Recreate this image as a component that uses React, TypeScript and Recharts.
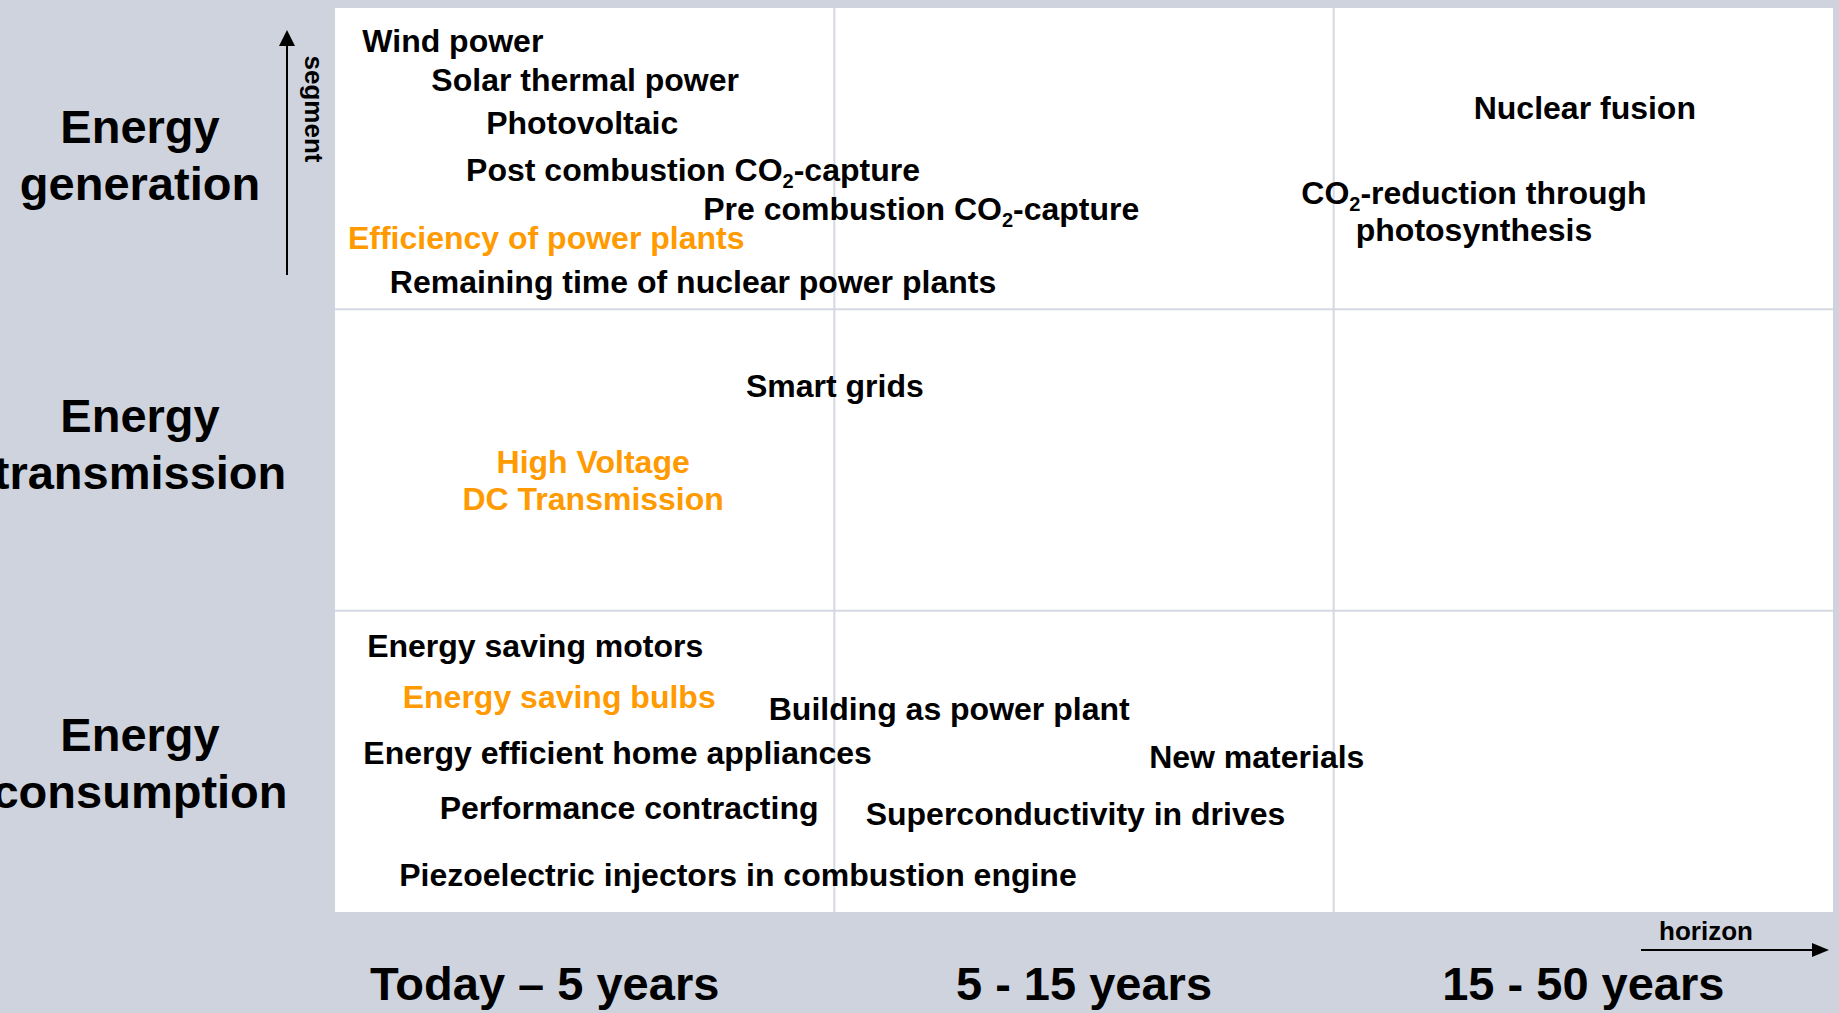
import React from 'react';
import { ScatterChart, Scatter, XAxis, YAxis, CartesianGrid, ReferenceLine } from 'recharts';

const FONT = '"Liberation Sans", Arial, Helvetica, sans-serif';
const BG = '#CED3DD';
const GRID = '#D4D8E0';
const ORANGE = '#FF9A00';
const INK = '#000000';

// Horizon (x) categories
const horizonLabels = ['Today \u2013 5 years', '5 - 15 years', '15 - 50 years'];
const horizonTicks = [0.42, 1.5, 2.5];

// Segment (y) categories
const segmentLabels = ['Energy\nconsumption', 'Energy\ntransmission', 'Energy\ngeneration'];
const segmentTicks = [0.48, 1.54, 2.5];

// Technologies
const itemLabels = [
  'Wind power',
  'Solar thermal power',
  'Photovoltaic',
  'Post combustion CO2-capture',
  'Pre combustion CO2-capture',
  'Efficiency of power plants',
  'Remaining time of nuclear power plants',
  'Nuclear fusion',
  'CO2-reduction through\nphotosynthesis',
  'Smart grids',
  'High Voltage\nDC Transmission',
  'Energy saving motors',
  'Energy saving bulbs',
  'Building as power plant',
  'Energy efficient home appliances',
  'New materials',
  'Performance contracting',
  'Superconductivity in drives',
  'Piezoelectric injectors in combustion engine',
];
const itemHorizon = [
  0.236, 0.501, 0.495, 0.717, 1.174, 0.423, 0.717, 2.503, 2.281, 1.001,
  0.517, 0.401, 0.449, 1.23, 0.566, 1.846, 0.589, 1.483, 0.807,
];
const itemSegment = [
  2.887, 2.758, 2.615, 2.459, 2.33, 2.233, 2.087, 2.665, 2.323, 1.742,
  1.43, 0.879, 0.71, 0.67, 0.524, 0.511, 0.342, 0.322, 0.119,
];
const itemHighlight = [
  false, false, false, false, false, true, false, false, false, false,
  true, false, true, false, false, false, false, false, false,
];

const data = itemLabels.map((label, i) => ({
  label,
  horizon: itemHorizon[i],
  segment: itemSegment[i],
  highlight: itemHighlight[i],
}));

const ITEM_SIZE = 32;
const SUB = 7;

function lineSpans(line: string) {
  const segs = line.split('CO2');
  const out: React.ReactNode[] = [];
  segs.forEach((s, i) => {
    const text = i < segs.length - 1 ? s + 'CO' : s;
    out.push(
      <tspan key={'t' + i} dy={i > 0 ? -SUB : 0}>
        {text}
      </tspan>
    );
    if (i < segs.length - 1) {
      out.push(
        <tspan key={'s' + i} dy={SUB} fontSize={20}>
          2
        </tspan>
      );
    }
  });
  return out;
}

const ItemShape = (props: any) => {
  const { cx, cy, payload } = props;
  if (cx == null || cy == null) return null;
  const lines = String(payload.label).split('\n');
  const n = lines.length;
  return (
    <g>
      {lines.map((ln, j) => (
        <text
          key={j}
          x={cx}
          y={cy + 10 + (j - (n - 1) / 2) * 37}
          textAnchor="middle"
          fontFamily={FONT}
          fontWeight="bold"
          fontSize={ITEM_SIZE}
          fill={payload.highlight ? ORANGE : INK}
        >
          {lineSpans(ln)}
        </text>
      ))}
    </g>
  );
};

const HorizonTick = (props: any) => {
  const { x, y, payload } = props;
  const idx = horizonTicks.indexOf(payload.value);
  const label = idx >= 0 ? horizonLabels[idx] : '';
  return (
    <text
      x={x}
      y={y + 88}
      textAnchor="middle"
      fontFamily={FONT}
      fontWeight="bold"
      fontSize={47}
      fill={INK}
    >
      {label}
    </text>
  );
};

const SegmentTick = (props: any) => {
  const { x, y, payload } = props;
  const idx = segmentTicks.indexOf(payload.value);
  const label = idx >= 0 ? segmentLabels[idx] : '';
  const lines = label.split('\n');
  return (
    <g>
      {lines.map((ln, j) => (
        <text
          key={j}
          x={x - 195}
          y={y - 16 + j * 57}
          textAnchor="middle"
          fontFamily={FONT}
          fontWeight="bold"
          fontSize={47}
          fill={INK}
        >
          {ln}
        </text>
      ))}
    </g>
  );
};

const horizonArrow = (props: any) => {
  const vb = props.viewBox || {};
  const right = (vb.x ?? 335) + (vb.width ?? 1498);
  const top = vb.y ?? 912;
  const ay = top + 38;
  return (
    <g>
      <text
        x={right - 127}
        y={top + 28}
        textAnchor="middle"
        fontFamily={FONT}
        fontWeight="bold"
        fontSize={26}
        fill={INK}
      >
        horizon
      </text>
      <line x1={right - 192} y1={ay} x2={right - 18} y2={ay} stroke={INK} strokeWidth={2} />
      <polygon points={`${right - 4},${ay} ${right - 21},${ay - 7} ${right - 21},${ay + 7}`} fill={INK} />
    </g>
  );
};

const segmentArrow = (props: any) => {
  const vb = props.viewBox || {};
  const right = (vb.x ?? 0) + (vb.width ?? 335);
  const top = vb.y ?? 8;
  const ax = right - 48;
  const tipY = top + 22;
  const tx = right - 21;
  const ty = top + 101;
  return (
    <g>
      <line x1={ax} y1={tipY + 12} x2={ax} y2={top + 267} stroke={INK} strokeWidth={2} />
      <polygon points={`${ax},${tipY} ${ax - 8},${tipY + 16} ${ax + 8},${tipY + 16}`} fill={INK} />
      <text
        x={tx}
        y={ty}
        textAnchor="middle"
        dominantBaseline="central"
        fontFamily={FONT}
        fontWeight="bold"
        fontSize={26}
        fill={INK}
        transform={`rotate(90 ${tx} ${ty})`}
      >
        segment
      </text>
    </g>
  );
};

export default function App() {
  return (
    <div
      style={{
        position: 'absolute',
        left: 0,
        top: 0,
        width: 1839,
        height: 1013,
        background: BG,
        overflow: 'hidden',
      }}
    >
      <ScatterChart width={1839} height={1013} margin={{ top: 8, right: 6, bottom: 0, left: 0 }}>
        <CartesianGrid fill="#FFFFFF" fillOpacity={1} horizontal={false} vertical={false} />
        <XAxis
          dataKey="horizon"
          type="number"
          domain={[0, 3]}
          ticks={horizonTicks}
          interval={0}
          tickLine={false}
          axisLine={false}
          tickSize={0}
          tickMargin={0}
          height={101}
          tick={<HorizonTick />}
          label={horizonArrow}
        />
        <YAxis
          dataKey="segment"
          type="number"
          domain={[0, 3]}
          ticks={segmentTicks}
          interval={0}
          tickLine={false}
          axisLine={false}
          tickSize={0}
          tickMargin={0}
          width={335}
          tick={<SegmentTick />}
          label={segmentArrow}
        />
        <ReferenceLine x={1} stroke={GRID} strokeWidth={2} />
        <ReferenceLine x={2} stroke={GRID} strokeWidth={2} />
        <ReferenceLine y={1} stroke={GRID} strokeWidth={2} />
        <ReferenceLine y={2} stroke={GRID} strokeWidth={2} />
        <Scatter data={data} shape={<ItemShape />} isAnimationActive={false} />
      </ScatterChart>
    </div>
  );
}
